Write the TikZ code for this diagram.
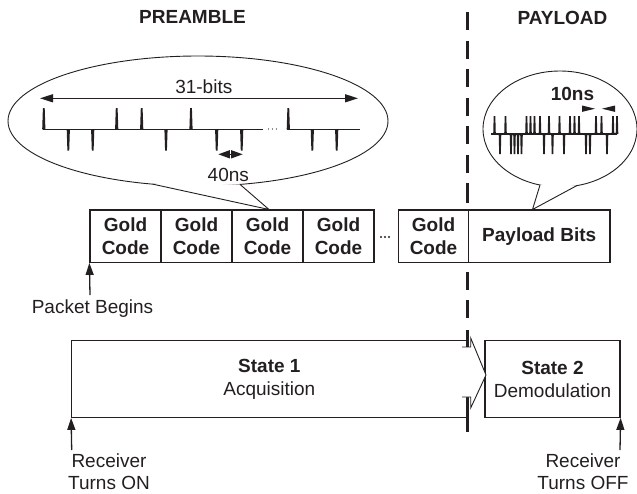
\documentclass[tikz,border=0pt]{standalone}
\usepackage{fontspec}
\setmainfont{Liberation Sans}
\usetikzlibrary{arrows.meta}
\definecolor{ink}{RGB}{35,31,32}
\begin{document}
\begin{tikzpicture}[x=1pt,y=-1pt,
  every node/.style={font=\fontsize{19}{22}\selectfont, text=ink, inner sep=0pt},
  gbox/.style={draw=ink, line width=1.2pt, fill=white, minimum height=52.3pt,
    align=center, font=\fontsize{19}{23.3}\selectfont\bfseries},
  sbox/.style={draw=ink, line width=1.2pt, minimum height=76.6pt,
    align=center, font=\fontsize{19}{23}\selectfont},
  lbl/.style={align=center, font=\fontsize{19}{22}\selectfont},
  arr/.style={draw=ink, line width=1.3pt, -{Triangle[length=12pt,width=8pt]}},
  dimarrow/.style={draw=ink, line width=1.3pt,
    {Triangle[length=13pt,width=8pt]}-{Triangle[length=13pt,width=8pt]}},
  bubble/.style={draw=ink, line width=0.9pt},
  dashseg/.style={draw=ink, line width=3.3pt},
  spike/.style={fill=ink}
]
\useasboundingbox (0,0) rectangle (637,493);

% ---------- section titles ----------
\node[font=\fontsize{19}{22}\selectfont\bfseries] (pre) at (192.5,17) {PREAMBLE};
\node[font=\fontsize{19}{22}\selectfont\bfseries] (pay) at (562.5,17.5) {PAYLOAD};

% ---------- callout: one Gold code ----------
\draw[bubble] (198,121) ellipse [x radius=190pt, y radius=65pt];
\coordinate (c1a) at (153,184.2);
\coordinate (c1t) at (269,209.5);
\coordinate (c1b) at (240,184.4);
\fill[white] (c1a) -- (c1t) -- (c1b) -- cycle;
\draw[bubble, line join=miter] (c1a) -- (c1t) -- (c1b);

\node[anchor=base] (bits) at (203.8,93.3) {31-bits};
\coordinate (b31l) at (40,98.3);
\coordinate (b31r) at (358,98.3);
\draw[dimarrow] (b31l) -- (b31r);

% chip waveform of the code
\draw[ink, line width=1.3pt] (43,129.3) -- (263,129.3) (287,129.3) -- (360,129.3);
\foreach \x in {43.8,116.7,141.7,191,288.3}
  \fill[spike] (\x-1.6,129.3) -- (\x-0.9,108) -- (\x+0.9,108) -- (\x+1.6,129.3) -- cycle;
\foreach \x in {68.3,92.7,166,216.7,241.7,312.3,336.7}
  \fill[spike] (\x-1.6,129.3) -- (\x-0.9,150.7) -- (\x+0.9,150.7) -- (\x+1.6,129.3) -- cycle;
\foreach \x in {268.5,272.5,276.5}
  \fill[ink] (\x,129) circle [radius=0.7pt];

\coordinate (c40l) at (218.3,154.3);
\coordinate (c40r) at (242.7,154.3);
\draw[draw=ink, line width=1.3pt,
  {Triangle[length=11.5pt,width=8pt]}-{Triangle[length=11.5pt,width=8pt]}] (c40l) -- (c40r);
\node[anchor=base] (t40) at (228.3,181.7) {40ns};

% ---------- callout: payload chips ----------
\draw[bubble] (560,129) ellipse [x radius=77pt, y radius=58pt];
\coordinate (c2a) at (540,185);
\coordinate (c2t) at (532.5,209.5);
\coordinate (c2b) at (577,185.5);
\fill[white] (c2a) -- (c2t) -- (c2b) -- cycle;
\draw[bubble, line join=miter] (c2a) -- (c2t) -- (c2b);

\node[anchor=base, font=\fontsize{19}{22}\selectfont\bfseries] (t10) at (572.5,100.7) {10ns};
\fill[ink] (582,105.5) -- (595,108.7) -- (582,111.9) -- cycle;
\fill[ink] (615,105.5) -- (602,108.7) -- (615,111.9) -- cycle;

\draw[ink, line width=1.3pt] (491,134) -- (617,134);
\foreach \x in {494.5,505.5,526.5,530.5,534.5,540,549,559.5,570,574.5,579,596,601.5,613,617}
  \fill[spike] (\x-1.3,134) -- (\x-0.8,116) -- (\x+0.8,116) -- (\x+1.3,134) -- cycle;
\foreach \x in {500,511,514.5,518,521.5,544,552.5,564,586,590,607}
  \fill[spike] (\x-1.3,134) -- (\x-0.8,154) -- (\x+0.8,154) -- (\x+1.3,134) -- cycle;

% ---------- packet structure ----------
\node[gbox, minimum width=71pt] (g1) at (125.5,236.15) {Gold\\Code};
\node[gbox, minimum width=71pt] (g2) at (196.5,236.15) {Gold\\Code};
\node[gbox, minimum width=71pt] (g3) at (267.5,236.15) {Gold\\Code};
\node[gbox, minimum width=71pt] (g4) at (338.5,236.15) {Gold\\Code};
\foreach \x in {381,385,389}
  \fill[ink] (\x,237) circle [radius=1.1pt];
\node[gbox, minimum width=70pt] (g5) at (433.5,236.15) {Gold\\Code};
\node[gbox, minimum width=141.5pt] (pbits) at (539.25,236.15) {Payload Bits};

\node[anchor=base] (pkt) at (92.5,313.7) {Packet Begins};
\coordinate (pktail) at (90,295);
\draw[arr] (pktail) -- (g1.south west);

% ---------- receiver states ----------
\node[sbox, minimum width=395.3pt] (s1) at (269.35,379) {\textbf{State 1}\\Acquisition};
\node[sbox, minimum width=135pt] (s2) at (552.5,379) {\textbf{State 2}\\Demodulation};

% boundary between preamble and payload
\foreach \a/\b in {12/30,40.5/58.5,69/87,97.5/115.5,126/144,154.5/172.5,183/203,
                   272/290,300/318,330/357,397/432}
  \draw[dashseg] (467.5,\a) -- (467.5,\b);

% transition arrow from state 1 to state 2
\coordinate (tip) at (486,375);
\fill[white] (462,347) -- (470.7,347) -- (470.7,338) -- (tip) -- (470.7,408)
  -- (470.7,397) -- (462,397) -- cycle;
\draw[ink, line width=0.9pt, line join=miter] (462,347) -- (470.7,347) -- (470.7,338)
  -- (tip) -- (470.7,408) -- (470.7,397) -- (462,397);

\node[lbl] (rxon) at (109,472.2) {Receiver\\Turns ON};
\node[lbl] (rxoff) at (583,472.2) {Receiver\\Turns OFF};
\coordinate (ontail) at (71.7,450);
\coordinate (offtail) at (620,450);
\draw[arr] (ontail) -- (s1.south west);
\draw[arr] (offtail) -- (s2.south east);
\end{tikzpicture}
\end{document}
